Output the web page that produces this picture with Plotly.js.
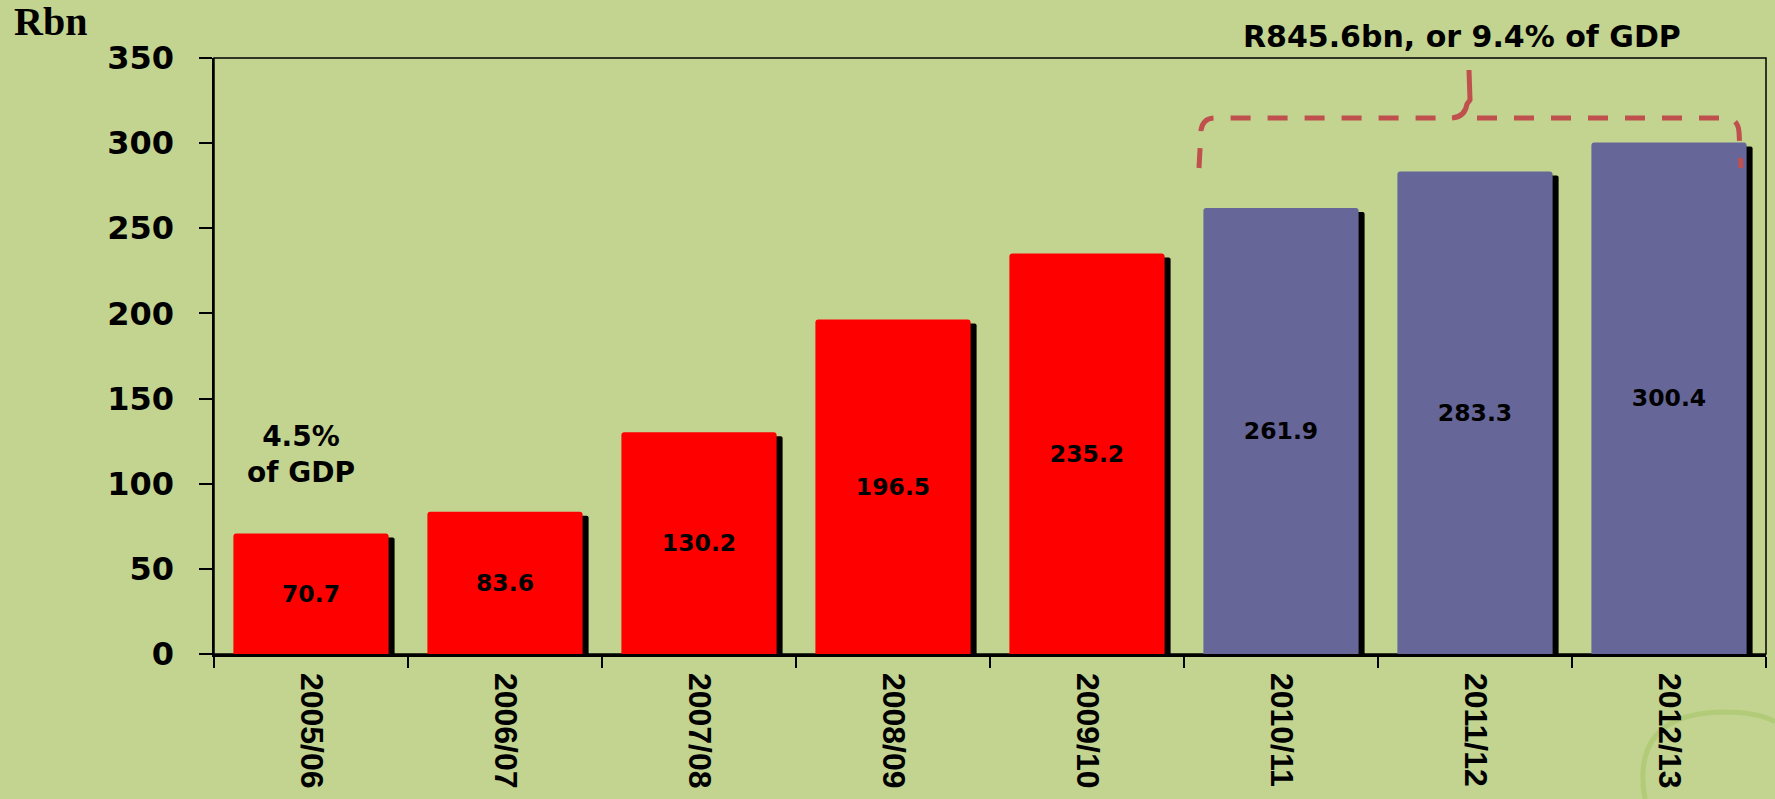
<!DOCTYPE html>
<html>
<head>
<meta charset="utf-8">
<script src="https://cdn.plot.ly/plotly-3.0.1.min.js"></script>
<style>
  html, body { margin: 0; padding: 0; background: #C2D490; }
  #chart { width: 1775px; height: 799px; }
</style>
</head>
<body>
<div id="chart"></div>
<script>
// ---- data ----
const years = ["2005/06", "2006/07", "2007/08", "2008/09", "2009/10", "2010/11", "2011/12", "2012/13"];
const spending = [70.7, 83.6, 130.2, 196.5, 235.2, 261.9, 283.3, 300.4];
const projected = [false, false, false, false, false, true, true, true];
const yTicks = [0, 50, 100, 150, 200, 250, 300, 350];

// ---- styling ----
const W = 1775, H = 799;
const M = { l: 214, r: 9, t: 58, b: 145 };
const plotW = W - M.l - M.r, plotH = H - M.t - M.b;
const px2x = px => (px - M.l) / plotW;
const px2y = py => (H - M.b - py) / plotH;
const P = (px, py) => px2x(px) + " " + px2y(py);

const barColors = projected.map(p => p ? "#666699" : "#FF0000");
const yMax = 350;
// shadow offsets (pixels -> axis units)
const shX = 6 / (plotW / years.length);
const shY = 4 / (plotH / yMax);

const shadow = {
  type: "bar", x: years, y: spending, xaxis: "x", yaxis: "y",
  width: 0.8, marker: { color: "#000000", cornerradius: 2 },
  hoverinfo: "skip", showlegend: false
};
const bars = {
  type: "bar", x: years, y: spending, xaxis: "x2", yaxis: "y2",
  width: 0.8, marker: { color: barColors, cornerradius: 3 },
  text: spending.map(v => v.toFixed(1)),
  textposition: "inside", insidetextanchor: "middle", constraintext: "none",
  textfont: { family: "DejaVu Sans", size: 23.5, color: "#000000", weight: "bold" },
  showlegend: false
};

const braceColor = "#C0504D";
const leftPath = "M " + P(1199, 168) + " L " + P(1201, 130) +
  " Q " + P(1203, 118) + " " + P(1215, 118) + " L " + P(1440, 118);
const peakPath = "M " + P(1452, 118) + " Q " + P(1465, 117) + " " + P(1467, 104) +
  " L " + P(1470, 100) + " L " + P(1469, 70);
const rightPath = "M " + P(1477, 118) + " L " + P(1724, 118) +
  " Q " + P(1738, 118) + " " + P(1739, 132) + " L " + P(1741, 168);
const swirlPath = "M " + P(1645, 799) + " Q " + P(1630, 715) + " " + P(1720, 712) +
  " Q " + P(1760, 712) + " " + P(1775, 722);

const layout = {
  width: W, height: H,
  margin: M,
  paper_bgcolor: "#C2D490",
  plot_bgcolor: "rgba(0,0,0,0)",
  barmode: "overlay",
  showlegend: false,
  xaxis: { type: "category", range: [-0.5 - shX, years.length - 0.5 - shX], visible: false, fixedrange: true },
  yaxis: { range: [shY, yMax + shY], visible: false, fixedrange: true },
  xaxis2: {
    type: "category", overlaying: "x", side: "bottom",
    range: [-0.5, years.length - 0.5],
    showline: true, linecolor: "#000000", linewidth: 2.5,
    ticks: "outside", tickson: "boundaries", ticklen: 11, tickwidth: 2, tickcolor: "#000000",
    tickangle: 90, ticklabelstandoff: 10,
    tickfont: { family: "Liberation Sans", size: 32, color: "#000000", weight: "bold" },
    showgrid: false, zeroline: false
  },
  yaxis2: {
    overlaying: "y", side: "left",
    range: [0, yMax], tickvals: yTicks, ticktext: yTicks.map(String),
    showline: true, linecolor: "#000000", linewidth: 2.5,
    ticks: "outside", ticklen: 13, tickwidth: 2, tickcolor: "#000000",
    ticklabelstandoff: 18,
    tickfont: { family: "DejaVu Sans", size: 32, color: "#000000", weight: "bold" },
    showgrid: false, zeroline: false
  },
  shapes: [
    { type: "path", xref: "paper", yref: "paper", path: swirlPath, layer: "below",
      line: { color: "rgba(160,192,90,0.45)", width: 5 } },
    { type: "rect", xref: "paper", yref: "paper", x0: 0, x1: 1, y0: 0, y1: 1,
      line: { color: "#000000", width: 1.5 }, layer: "below" },
    { type: "path", xref: "paper", yref: "paper", path: leftPath,
      line: { color: braceColor, width: 5, dash: "20px,17px" } },
    { type: "path", xref: "paper", yref: "paper", path: peakPath,
      line: { color: braceColor, width: 5 } },
    { type: "path", xref: "paper", yref: "paper", path: rightPath,
      line: { color: braceColor, width: 5, dash: "20px,17px" } }
  ],
  annotations: [
    { xref: "paper", yref: "paper", x: px2x(12), y: px2y(22), xanchor: "left", yanchor: "middle",
      text: "Rbn", showarrow: false,
      font: { family: "Liberation Serif", size: 40, color: "#000000", weight: "bold" } },
    { xref: "paper", yref: "paper", x: px2x(301), y: px2y(454), xanchor: "center", yanchor: "middle",
      text: "4.5%<br>of GDP", showarrow: false,
      font: { family: "DejaVu Sans", size: 28, color: "#000000", weight: "bold" } },
    { xref: "paper", yref: "paper", x: px2x(1462), y: px2y(36), xanchor: "center", yanchor: "middle",
      text: "R845.6bn, or 9.4% of GDP", showarrow: false,
      font: { family: "DejaVu Sans", size: 30, color: "#000000", weight: "bold" } }
  ]
};

Plotly.newPlot("chart", [shadow, bars], layout, { displayModeBar: false, staticPlot: true });
</script>
</body>
</html>
